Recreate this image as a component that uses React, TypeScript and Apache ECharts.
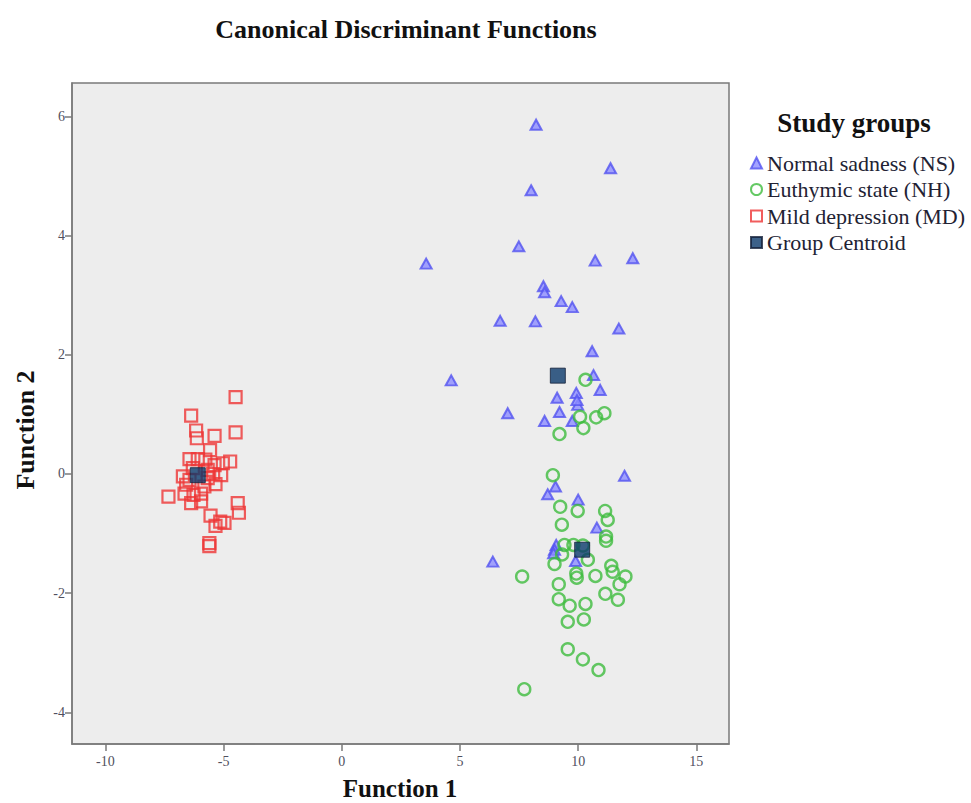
import React, { useEffect, useRef } from "react";
import * as echarts from "echarts";

const xTicks = [-10, -5, 0, 5, 10, 15];
const yTicks = [-4, -2, 0, 2, 4, 6];
const xRange = [-11.41, 16.38];
const yRange = [-4.53, 6.56];

const seriesNames = [
  "Normal sadness (NS)",
  "Euthymic state (NH)",
  "Mild depression (MD)",
  "Group Centroid",
];

const normalSadness = [
  [8.22, 5.86], [11.37, 5.13], [8.01, 4.76], [7.49, 3.82], [3.57, 3.53],
  [10.72, 3.58], [12.31, 3.62], [8.53, 3.15], [8.58, 3.05], [9.28, 2.9],
  [9.75, 2.8], [6.7, 2.57], [8.19, 2.56], [11.72, 2.44], [10.59, 2.06],
  [4.63, 1.57], [10.65, 1.66], [10.93, 1.41], [9.92, 1.36], [9.11, 1.28],
  [9.98, 1.16], [9.95, 1.24], [9.21, 1.04], [7.02, 1.02], [8.58, 0.89],
  [9.75, 0.89], [11.96, -0.03], [9.04, -0.21], [8.71, -0.34], [10.0, -0.43],
  [10.79, -0.9], [9.07, -1.19], [9.0, -1.27], [8.96, -1.33], [9.89, -1.46],
  [6.39, -1.47],
];

const euthymicState = [
  [10.31, 1.58], [10.08, 0.96], [10.76, 0.95], [11.11, 1.02], [10.22, 0.77],
  [9.21, 0.67], [8.93, -0.02], [9.24, -0.55], [9.98, -0.62], [11.14, -0.62],
  [11.25, -0.77], [9.31, -0.85], [11.18, -1.05], [11.18, -1.12], [9.42, -1.19],
  [9.8, -1.19], [10.2, -1.2], [9.32, -1.35], [9.0, -1.51], [10.41, -1.44],
  [7.63, -1.72], [9.92, -1.67], [9.94, -1.74], [10.73, -1.71], [11.4, -1.54],
  [11.46, -1.64], [12.0, -1.72], [9.18, -1.85], [11.75, -1.85], [9.18, -2.1],
  [9.64, -2.21], [10.31, -2.18], [11.15, -2.01], [11.68, -2.11], [9.56, -2.48],
  [10.24, -2.44], [9.56, -2.94], [10.2, -3.11], [10.86, -3.29], [7.72, -3.61],
];

const mildDepression = [
  [-4.49, 1.29], [-6.37, 0.98], [-6.16, 0.73], [-6.13, 0.6], [-5.38, 0.64],
  [-4.49, 0.7], [-5.57, 0.4], [-6.44, 0.25], [-6.09, 0.25], [-5.77, 0.24],
  [-5.03, 0.18], [-4.72, 0.21], [-5.38, 0.15], [-6.3, 0.1], [-5.67, 0.07],
  [-6.72, -0.04], [-5.1, -0.02], [-5.44, 0.0], [-6.44, -0.1], [-5.67, -0.07],
  [-6.58, -0.18], [-5.34, -0.17], [-5.81, -0.21], [-6.65, -0.33], [-6.27, -0.35],
  [-5.95, -0.33], [-7.33, -0.38], [-6.37, -0.49], [-5.95, -0.46], [-4.4, -0.49],
  [-4.35, -0.65], [-5.55, -0.7], [-5.14, -0.8], [-4.96, -0.82], [-5.34, -0.87],
  [-5.6, -1.16], [-5.6, -1.21],
];

const groupCentroids = [
  [9.14, 1.65],
  [10.17, -1.27],
  [-6.09, -0.02],
];

const SERIF = "'Liberation Serif', 'DejaVu Serif', serif";

export default function App() {
  const ref = useRef<HTMLDivElement>(null);

  useEffect(() => {
    if (!ref.current) return;
    const chart = echarts.init(ref.current, null, { renderer: "svg" });
    const axisCommon = {
      type: "value" as const,
      splitLine: { show: false },
      axisLine: { show: true, onZero: false, lineStyle: { color: "#7a7a7a", width: 1.5 } },
      axisTick: { show: true, length: 7, lineStyle: { color: "#7a7a7a", width: 1.5 } },
    };
    chart.setOption({
      animation: false,
      backgroundColor: "#ffffff",
      grid: {
        left: 72,
        right: 242,
        top: 83,
        bottom: 59,
        show: true,
        backgroundColor: "#ededed",
        borderColor: "#7a7a7a",
        borderWidth: 1.5,
      },
      xAxis: {
        ...axisCommon,
        min: xRange[0],
        max: xRange[1],
        axisTick: { ...axisCommon.axisTick, customValues: xTicks },
        axisLabel: {
          customValues: xTicks,
          color: "#50505e",
          fontSize: 14,
          fontFamily: SERIF,
          margin: 10,
        },
      },
      yAxis: {
        ...axisCommon,
        min: yRange[0],
        max: yRange[1],
        axisTick: { ...axisCommon.axisTick, customValues: yTicks },
        axisLabel: {
          customValues: yTicks,
          color: "#50505e",
          fontSize: 14,
          fontFamily: SERIF,
          margin: 7,
        },
      },
      legend: {
        orient: "vertical",
        left: 745,
        top: 147,
        itemWidth: 11,
        itemHeight: 11,
        itemGap: 4.5,
        data: seriesNames,
        textStyle: {
          color: "#222233",
          fontSize: 22,
          lineHeight: 22,
          fontFamily: SERIF,
          padding: [0, 0, 0, 0],
        },
      },
      graphic: [
        {
          type: "text",
          x: 406,
          y: 29,
          style: {
            text: "Canonical Discriminant Functions",
            font: `bold 26px ${SERIF}`,
            fill: "#111",
            align: "center",
            verticalAlign: "middle",
          },
        },
        {
          type: "text",
          x: 854,
          y: 123,
          style: {
            text: "Study groups",
            font: `bold 27px ${SERIF}`,
            fill: "#111",
            align: "center",
            verticalAlign: "middle",
          },
        },
        {
          type: "text",
          x: 400,
          y: 788,
          style: {
            text: "Function 1",
            font: `bold 25px ${SERIF}`,
            fill: "#111",
            align: "center",
            verticalAlign: "middle",
          },
        },
        {
          type: "text",
          x: 25,
          y: 430,
          rotation: Math.PI / 2,
          style: {
            text: "Function 2",
            font: `bold 26px ${SERIF}`,
            fill: "#111",
            align: "center",
            verticalAlign: "middle",
          },
        },
      ],
      series: [
        {
          name: seriesNames[0],
          type: "scatter",
          data: normalSadness,
          symbol: "triangle",
          symbolSize: [11, 10],
          itemStyle: { color: "#8c8cff", borderColor: "#5252f0", borderWidth: 2 },
        },
        {
          name: seriesNames[1],
          type: "scatter",
          data: euthymicState,
          symbol: "circle",
          symbolSize: 12,
          itemStyle: { color: "rgba(255,255,255,0)", borderColor: "#3dbb3d", borderWidth: 2.4 },
        },
        {
          name: seriesNames[2],
          type: "scatter",
          data: mildDepression,
          symbol: "rect",
          symbolSize: 12,
          itemStyle: { color: "rgba(255,255,255,0)", borderColor: "#ee3535", borderWidth: 2.2 },
        },
        {
          name: seriesNames[3],
          type: "scatter",
          data: groupCentroids,
          symbol: "rect",
          symbolSize: 15,
          z: 5,
          itemStyle: { color: "#0b3a6c", borderColor: "#14203a", borderWidth: 1 },
        },
      ],
    });
    return () => chart.dispose();
  }, []);

  return (
    <div
      ref={ref}
      style={{ position: "fixed", left: 0, top: 0, width: 971, height: 803 }}
    />
  );
}
